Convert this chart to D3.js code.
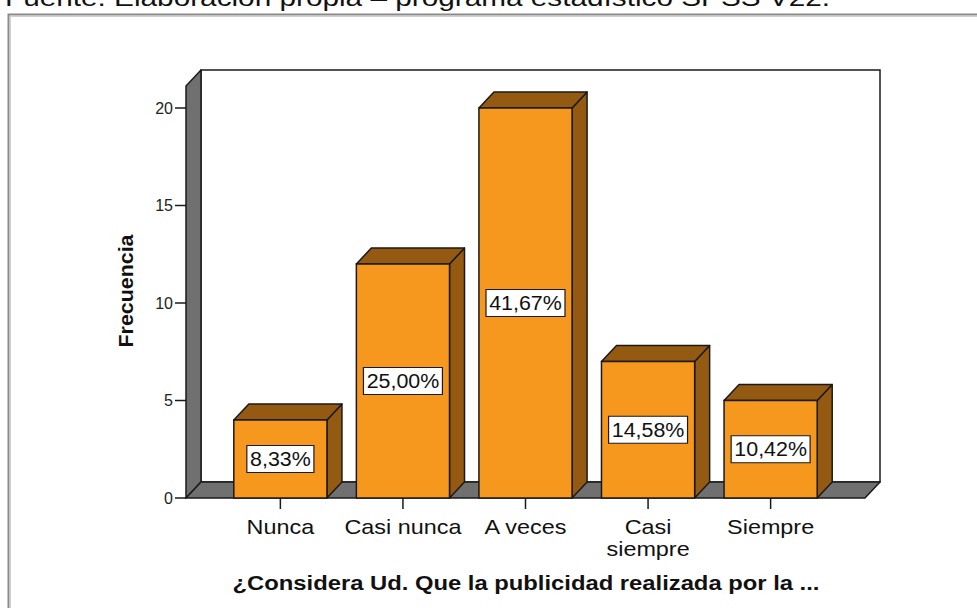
<!DOCTYPE html>
<html>
<head>
<meta charset="utf-8">
<script src="https://cdn.jsdelivr.net/npm/d3@7/dist/d3.min.js"></script>
<style>
  html, body { margin: 0; padding: 0; background: #fff; }
  svg { display: block; font-family: "Liberation Sans", Arial, sans-serif; }
</style>
</head>
<body>
<svg id="chart" width="977" height="608"></svg>
<script>
// ---- data ----
const categories = ["Nunca", "Casi nunca", "A veces", "Casi siempre", "Siempre"];
const categoryLines = [["Nunca"], ["Casi nunca"], ["A veces"], ["Casi", "siempre"], ["Siempre"]];
const frequencies = [4, 12, 20, 7, 5];
const pctLabels = ["8,33%", "25,00%", "41,67%", "14,58%", "10,42%"];
const yTicks = [0, 5, 10, 15, 20];
const yTitle = "Frecuencia";
const xTitle = "¿Considera Ud. Que la publicidad realizada por la ...";
const sourceText = "Fuente: Elaboración propia – programa estadístico SPSS V22.";

// ---- layout ----
const svg = d3.select("#chart");
const floorY = 498, topY = 108;
const left = 186, right = 865;
const dx = 15, dy = 16;
const wallTop = 70;

const y = d3.scaleLinear().domain([0, 20]).range([floorY, topY]);
const x = d3.scaleBand().domain(categories).range([left, right])
  .paddingInner(0.24).paddingOuter(0.39);

const orange = "#F7981E", brown = "#955A12", gray = "#707070", ink = "#1a1a1a";

// source text (cut off at top)
svg.append("text").attr("x", 5).attr("y", 6).attr("font-size", 24)
  .attr("textLength", 825).attr("lengthAdjust", "spacingAndGlyphs")
  .attr("fill", "#111").text(sourceText);

// outer frame
svg.append("rect").attr("x", 8.5).attr("y", 14.5).attr("width", 990).attr("height", 620)
  .attr("fill", "none").attr("stroke", "#8a8a8a").attr("stroke-width", 2);
svg.append("rect").attr("x", 10.5).attr("y", 16.5).attr("width", 990).attr("height", 620)
  .attr("fill", "none").attr("stroke", "#d0d0d0").attr("stroke-width", 1);

// back wall
svg.append("rect").attr("x", left + dx).attr("y", wallTop)
  .attr("width", (right + dx) - (left + dx)).attr("height", (floorY - dy) - wallTop)
  .attr("fill", "#fff").attr("stroke", ink).attr("stroke-width", 1.5);

// left wall
svg.append("polygon")
  .attr("points", [[left, wallTop + dy], [left + dx, wallTop], [left + dx, floorY - dy], [left, floorY]].join(" "))
  .attr("fill", gray).attr("stroke", ink).attr("stroke-width", 1.5).attr("stroke-linejoin", "round");

// floor
svg.append("polygon")
  .attr("points", [[left, floorY], [right, floorY], [right + dx, floorY - dy], [left + dx, floorY - dy]].join(" "))
  .attr("fill", gray).attr("stroke", ink).attr("stroke-width", 1.5).attr("stroke-linejoin", "round");

// y axis ticks
const yg = svg.append("g");
yTicks.forEach(t => {
  yg.append("line").attr("x1", left - 11).attr("x2", left).attr("y1", y(t)).attr("y2", y(t))
    .attr("stroke", ink).attr("stroke-width", 1.5);
  yg.append("text").attr("x", left - 13).attr("y", y(t)).attr("dy", "0.35em")
    .attr("text-anchor", "end").attr("font-size", 16).attr("fill", "#222").text(t);
});

// y title
svg.append("text").attr("transform", `translate(133,${291}) rotate(-90) scale(1.07,1)`)
  .attr("text-anchor", "middle").attr("font-size", 20).attr("font-weight", "bold")
  .attr("fill", "#111").text(yTitle);

// bars
const bw = x.bandwidth();
const data = categories.map((c, i) => ({ c, v: frequencies[i], p: pctLabels[i], lines: categoryLines[i] }));
const bars = svg.append("g").selectAll("g").data(data).join("g");
bars.each(function (d) {
  const g = d3.select(this);
  const x0 = x(d.c), x1 = x0 + bw, yt = y(d.v);
  g.append("polygon")
    .attr("points", [[x1, yt], [x1 + dx, yt - dy], [x1 + dx, floorY - dy], [x1, floorY]].join(" "))
    .attr("fill", brown).attr("stroke", ink).attr("stroke-width", 1.5).attr("stroke-linejoin", "round");
  g.append("polygon")
    .attr("points", [[x0, yt], [x0 + dx, yt - dy], [x1 + dx, yt - dy], [x1, yt]].join(" "))
    .attr("fill", brown).attr("stroke", ink).attr("stroke-width", 1.5).attr("stroke-linejoin", "round");
  g.append("rect").attr("x", x0).attr("y", yt).attr("width", bw).attr("height", floorY - yt)
    .attr("fill", orange).attr("stroke", ink).attr("stroke-width", 1.5);
  // label
  const cy = (yt + floorY) / 2, cx = x0 + bw / 2;
  const sx = 1.07;
  const lg = g.append("g").attr("transform", `translate(${cx},${cy}) scale(${sx},1)`);
  const t = lg.append("text").attr("x", 0).attr("y", 0).attr("dy", "0.36em")
    .attr("text-anchor", "middle").attr("font-size", 20).attr("fill", "#111").text(d.p);
  const bb = t.node().getBBox();
  lg.insert("rect", "text").attr("x", -bb.width / 2 - 3).attr("y", -13.5)
    .attr("width", bb.width + 6).attr("height", 27)
    .attr("fill", "#fff").attr("stroke", ink).attr("stroke-width", 1.2)
    .attr("vector-effect", "non-scaling-stroke");
  // x tick
  g.append("line").attr("x1", cx).attr("x2", cx).attr("y1", floorY).attr("y2", floorY + 11)
    .attr("stroke", ink).attr("stroke-width", 1.5);
  const lt = g.append("g").attr("transform", `translate(${cx},0) scale(1.17,1)`)
    .append("text").attr("text-anchor", "middle").attr("font-size", 20).attr("fill", "#111");
  d.lines.forEach((ln, k) => {
    lt.append("tspan").attr("x", 0).attr("y", 534 + k * 22).text(ln);
  });
});

// x title
svg.append("g").attr("transform", "translate(526,590) scale(1.19,1)")
  .append("text").attr("x", 0).attr("y", 0).attr("text-anchor", "middle")
  .attr("font-size", 20).attr("font-weight", "bold").attr("fill", "#111").text(xTitle);
</script>
</body>
</html>
